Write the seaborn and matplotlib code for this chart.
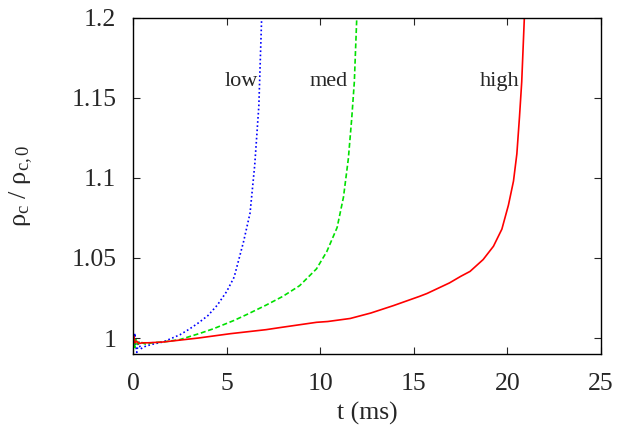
import numpy as np
import pandas as pd
import matplotlib
matplotlib.use("Agg")
import matplotlib.pyplot as plt
from matplotlib.ticker import FuncFormatter, MultipleLocator
import seaborn as sns

# Central density evolution for three rotation rates
t_low = [0, 0.05, 0.1, 0.15, 0.2, 0.3, 0.4, 0.5, 0.7, 1.0, 1.6, 2.5, 3.0,
         3.5, 4.0, 4.5, 5.0, 5.4, 5.9, 6.25, 6.5, 6.72, 6.87, 6.95]
rho_low = [1.0, 0.993, 1.003, 0.995, 0.991, 0.998, 0.993, 0.994, 0.995, 0.996,
           0.9975, 1.002, 1.0055, 1.0095, 1.014, 1.0205, 1.029, 1.038, 1.06,
           1.078, 1.108, 1.145, 1.2, 1.23]

t_med = [0, 0.05, 0.1, 0.15, 0.25, 0.35, 0.5, 0.7, 1.0, 1.6, 2.5, 3.6, 4.3,
         5.4, 6.1, 7.1, 8.0, 8.9, 9.8, 10.35, 10.9, 11.24, 11.5, 11.68, 11.82,
         11.95, 12.0]
rho_med = [0.998, 1.002, 0.994, 0.999, 0.996, 0.998, 0.997, 0.996, 0.997,
           0.9975, 0.999, 1.003, 1.0058, 1.011, 1.0148, 1.0205, 1.026, 1.0327,
           1.0432, 1.054, 1.069, 1.088, 1.112, 1.137, 1.16, 1.2, 1.23]

t_high = [0, 0.05, 0.1, 0.2, 0.3, 0.5, 0.8, 1.6, 3.5, 5.2, 7.1, 7.9, 9.8,
          10.4, 11.6, 12.7, 13.9, 15.3, 15.7, 16.9, 17.5, 18.0, 18.7, 19.25,
          19.7, 20.05, 20.32, 20.5, 20.64, 20.76, 20.9, 20.95]
rho_high = [0.999, 1.001, 0.997, 0.998, 0.9965, 0.997, 0.997, 0.9975, 1.0,
            1.0027, 1.0052, 1.0066, 1.0098, 1.0103, 1.0122, 1.0156, 1.0202,
            1.026, 1.0278, 1.0344, 1.0385, 1.0416, 1.049, 1.0573, 1.068, 1.083,
            1.098, 1.115, 1.138, 1.16, 1.2, 1.23]

series_names = ["low", "med", "high"]
label_t = [5.77, 10.47, 19.6]
label_rho = [1.16, 1.16, 1.16]

df = pd.concat([
    pd.DataFrame({"t": t_low, "rho": rho_low, "run": "low"}),
    pd.DataFrame({"t": t_med, "rho": rho_med, "run": "med"}),
    pd.DataFrame({"t": t_high, "rho": rho_high, "run": "high"}),
], ignore_index=True)

sns.set_style("ticks")
plt.rcParams["font.family"] = ["Liberation Serif", "DejaVu Serif"]
plt.rcParams["mathtext.fontset"] = "custom"
plt.rcParams["mathtext.rm"] = "Liberation Serif"
plt.rcParams["mathtext.it"] = "Liberation Serif:italic"

fig = plt.figure(figsize=(6.19, 4.34), dpi=100)
ax = fig.add_axes([0.2149, 0.1843, 0.7562, 0.7747])

palette = {"low": "#0000ff", "med": "#00e000", "high": "#ff0000"}
dashes = {"low": (1, 1.5), "med": (3, 1.6), "high": ""}
sns.lineplot(data=df, x="t", y="rho", hue="run", style="run",
             palette=palette, dashes=dashes, sort=False, estimator=None,
             linewidth=1.2, ax=ax, legend=False)

ax.set_xlim(0, 25)
ax.set_ylim(0.99, 1.2)
ax.xaxis.set_major_locator(MultipleLocator(5))
ax.yaxis.set_major_locator(MultipleLocator(0.05))
ax.yaxis.set_major_formatter(FuncFormatter(lambda v, p: f"{v:g}"))
ax.tick_params(direction="in", top=True, right=True, length=5, width=0.8,
               labelsize=18.5)
ax.tick_params(axis="x", pad=14)
ax.tick_params(axis="y", pad=12)
for s in ax.spines.values():
    s.set_linewidth(1.0)
    s.set_color("black")

ax.set_xlabel("t (ms)", fontsize=18.5, labelpad=5)
ax.set_ylabel(r"ρ$_{\mathrm{c}}$ / ρ$_{\mathrm{c,0}}$", fontsize=19,
              labelpad=26)

for name, tx, ty in zip(series_names, label_t, label_rho):
    ax.text(tx, ty, name, fontsize=16, ha="center", va="center")

fig.savefig("out.png", dpi=100)
